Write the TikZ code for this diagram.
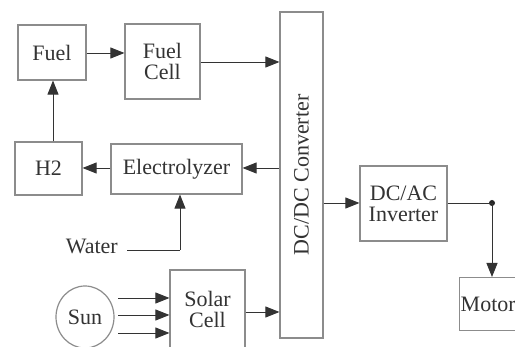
\documentclass[tikz,border=0pt]{standalone}
\usepackage{fontspec}
\setmainfont{Liberation Serif}
\usetikzlibrary{arrows.meta,shapes.geometric}
\definecolor{boxgray}{gray}{0.55}
\definecolor{txtgray}{gray}{0.2}
\begin{document}
\begin{tikzpicture}[x=1pt,y=-1pt,
  lbl/.style={text=txtgray,font=\fontsize{22}{24}\selectfont},
  blk/.style={draw=boxgray,line width=1.2pt,fill=white,inner sep=0pt,lbl,align=center},
  conn/.style={draw=black!80,line width=0.9pt},
  arr/.style={conn,-{Triangle[length=14pt,width=11pt]}}]
\useasboundingbox (0,0) rectangle (515,347);
\clip (0,0) rectangle (515,347);
\fill[white] (0,0) rectangle (515,347);
\node[blk,minimum width=68pt,minimum height=55pt] (fuel) at (52,52.5) {Fuel};
\node[blk,minimum width=75pt,minimum height=75pt] (fcell) at (162.5,61.5) {Fuel\\[-3pt]Cell};
\node[blk,minimum width=43pt,minimum height=326pt] (dcdc) at (301.5,175) {};
\node[rotate=90,lbl] (dcdclab) at (dcdc.center) {DC/DC Converter};
\node[blk,minimum width=67pt,minimum height=53pt] (h2) at (48.5,168.5) {H2};
\node[blk,minimum width=131pt,minimum height=50pt] (elec) at (176.5,169) {Electrolyzer};
\node[lbl,anchor=east,inner sep=0pt] (water) at (118,246) {Water};
\coordinate (wstart) at (127,250);
\coordinate (wcorner) at (180,250);
\node[blk,ellipse,minimum width=58pt,minimum height=62pt] (sun) at (85,317) {Sun};
\node[blk,minimum width=75pt,minimum height=78pt] (solar) at (207.5,309) {Solar\\[-3pt]Cell};
\node[blk,minimum width=87pt,minimum height=75pt] (inv) at (403.5,203.5) {DC/AC\\[-3pt]Inverter};
\node[blk,minimum width=70pt,minimum height=53pt,anchor=north west] (motor) at (459,277) {};
\node[lbl,anchor=west,inner sep=0pt] (motorlab) at ([xshift=1.5pt]motor.west) {Motor};
\coordinate (dot) at (492,203);
\fill[black!85] (dot) circle (3pt);
% connectors
\draw[arr] (fuel.east|-0,53) -- (fcell.west|-0,53);
\draw[arr] (fcell.east|-0,62) -- (dcdc.west|-0,62);
\draw[arr] (dcdc.west|-0,168) -- (elec.east|-0,168);
\draw[arr] (elec.west|-0,168) -- (h2.east|-0,168);
\draw[arr] (h2.north-|53,0) -- (fuel.south-|53,0);
\draw[conn] (wstart) -- (wcorner);
\draw[arr] (wcorner) -- (elec.south-|wcorner);
\draw[arr] (118,298) -- (solar.west|-0,298);
\draw[arr] (118,315) -- (solar.west|-0,315);
\draw[arr] (118,333) -- (solar.west|-0,333);
\draw[arr] (solar.east|-0,312) -- (dcdc.west|-0,312);
\draw[arr] (dcdc.east|-0,203) -- (inv.west|-0,203);
\draw[conn] (inv.east|-0,203) -- (dot);
\draw[arr] (dot) -- (motor.north-|dot);
\end{tikzpicture}
\end{document}
